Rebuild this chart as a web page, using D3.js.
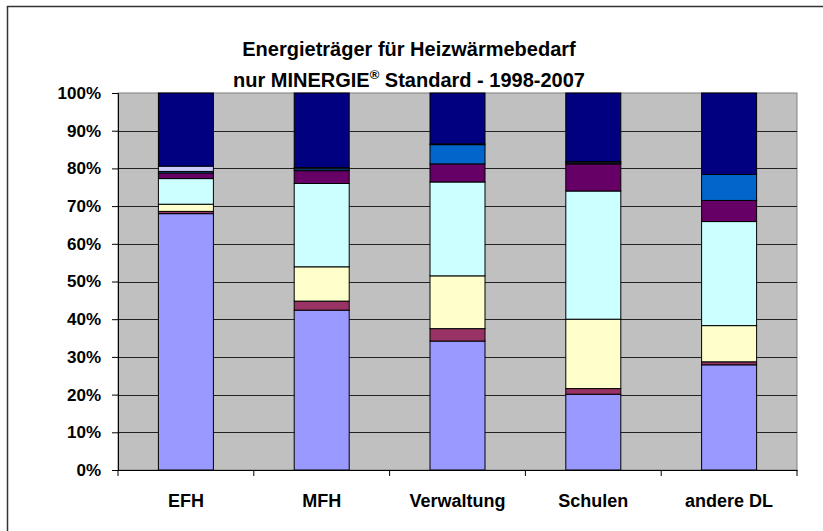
<!DOCTYPE html>
<html>
<head>
<meta charset="utf-8">
<script src="https://cdn.jsdelivr.net/npm/d3@7"></script>
<style>
  body { margin: 0; background: #fff; }
  text { font-family: "Liberation Sans", Arial, sans-serif; font-weight: bold; }
</style>
</head>
<body>
<div id="chart"></div>
<script>
var width = 823;
var height = 531;

// data (percent of each building type), bottom to top
var categories = ["EFH", "MFH", "Verwaltung", "Schulen", "andere DL"];
var seriesColors = ["#9999FF", "#993366", "#FFFFCC", "#CCFFFF", "#660066", "#0066CC", "#CCCCFF", "#000080"];
var s1 = [68.0, 42.4, 34.2, 20.1, 27.9];
var s2 = [0.6, 2.4, 3.3, 1.5, 0.8];
var s3 = [1.9, 9.1, 14.0, 18.4, 9.6];
var s4 = [6.8, 22.1, 24.9, 34.0, 27.6];
var s5 = [1.5, 3.4, 4.8, 7.2, 5.6];
var s6 = [0.4, 0.5, 5.1, 0.3, 6.9];
var s7 = [1.4, 0.3, 0.2, 0.3, 0.0];
var s8 = [19.4, 19.8, 13.5, 18.2, 21.6];
var series = [s1, s2, s3, s4, s5, s6, s7, s8];
var yTicks = [0, 10, 20, 30, 40, 50, 60, 70, 80, 90, 100];

var plot = {left: 118, right: 797, top: 93, bottom: 470};

var svg = d3.select("#chart")
    .append("svg")
    .attr("width", width)
    .attr("height", height);

// outer chart frame (only top/left visible)
svg.append("rect")
    .attr("x", 7.5).attr("y", 6.5)
    .attr("width", width + 20).attr("height", height + 20)
    .attr("fill", "#fff")
    .attr("stroke", "#333")
    .attr("stroke-width", 1.5);

var x = d3.scaleBand()
    .domain(categories)
    .range([plot.left, plot.right])
    .paddingInner(0.595)
    .paddingOuter(0.2975);

var y = d3.scaleLinear()
    .domain([0, 100])
    .range([plot.bottom, plot.top]);

// plot area
svg.append("rect")
    .attr("x", plot.left).attr("y", plot.top)
    .attr("width", plot.right - plot.left)
    .attr("height", plot.bottom - plot.top)
    .attr("fill", "#C0C0C0")
    .attr("stroke", "#808080");

svg.selectAll("line.grid")
    .data(yTicks.slice(1, -1))
    .enter()
    .append("line")
    .attr("class", "grid")
    .attr("x1", plot.left).attr("x2", plot.right)
    .attr("y1", function(d) { return Math.round(y(d)) + 0.5; })
    .attr("y2", function(d) { return Math.round(y(d)) + 0.5; })
    .attr("stroke", "#222");

// stacked bars
var stackData = categories.map(function(c, i) {
    var o = {cat: c};
    series.forEach(function(s, k) { o["s" + k] = s[i]; });
    return o;
});
var stack = d3.stack().keys(series.map(function(s, k) { return "s" + k; }));
var layers = stack(stackData);

svg.selectAll("g.layer")
    .data(layers)
    .enter()
    .append("g")
    .attr("class", "layer")
    .attr("fill", function(d, i) { return seriesColors[i]; })
    .selectAll("rect")
    .data(function(d) { return d; })
    .enter()
    .append("rect")
    .attr("x", function(d) { return x(d.data.cat); })
    .attr("width", x.bandwidth())
    .attr("y", function(d) { return y(d[1]); })
    .attr("height", function(d) { return y(d[0]) - y(d[1]); })
    .attr("stroke", "#000")
    .attr("stroke-width", 1);

// y axis
var yAxis = d3.axisLeft(y)
    .tickValues(yTicks)
    .tickSize(6)
    .tickFormat(function(d) { return d + "%"; });

var gy = svg.append("g")
    .attr("transform", "translate(" + plot.left + ",0)")
    .call(yAxis);
gy.select(".domain").attr("stroke", "#000");
gy.selectAll(".tick line").attr("stroke", "#000");
gy.selectAll(".tick text")
    .attr("x", -17)
    .attr("fill", "#000")
    .style("font-size", "17px");

// x axis
var gx = svg.append("g")
    .attr("transform", "translate(0," + plot.bottom + ")")
    .call(d3.axisBottom(x).tickSize(0));
gx.select(".domain").attr("stroke", "#000");
gx.selectAll(".tick text")
    .attr("y", 37)
    .attr("dy", null)
    .attr("fill", "#000")
    .style("font-size", "18px");

// category boundary ticks
var bounds = categories.map(function(c) { return x(c) - x.step() * x.paddingInner() / 2; });
bounds.push(plot.right);
bounds[0] = plot.left;
svg.selectAll("line.xtick")
    .data(bounds)
    .enter()
    .append("line")
    .attr("x1", function(d) { return d; }).attr("x2", function(d) { return d; })
    .attr("y1", plot.bottom).attr("y2", plot.bottom + 6)
    .attr("stroke", "#000");

// title
svg.append("text")
    .attr("x", 409).attr("y", 56)
    .attr("text-anchor", "middle")
    .style("font-size", "20px")
    .text("Energieträger für Heizwärmebedarf");
var t2 = svg.append("text")
    .attr("x", 409).attr("y", 87)
    .attr("text-anchor", "middle")
    .style("font-size", "20px");
t2.append("tspan").text("nur MINERGIE");
t2.append("tspan").attr("dy", -8).style("font-size", "13px").text("®");
t2.append("tspan").attr("dy", 8).text(" Standard - 1998-2007");
</script>
</body>
</html>
